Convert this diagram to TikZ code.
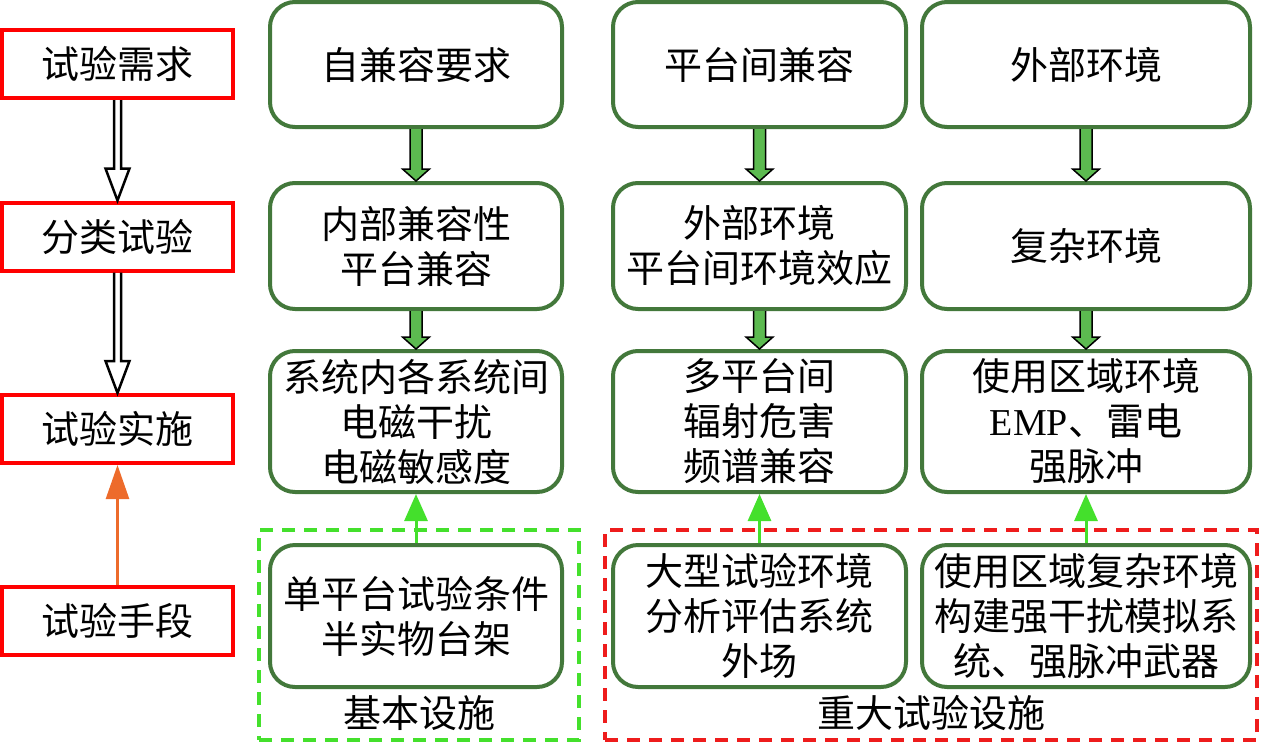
\documentclass[tikz,border=0pt]{standalone}
\usepackage{fontspec}
\setmainfont{Liberation Serif}
\newfontfamily\cjk{Noto Sans CJK SC}
\usetikzlibrary{arrows.meta,calc}
\definecolor{boxgreen}{HTML}{43783B}
\definecolor{fillgreen}{HTML}{5CBA50}
\definecolor{brightgreen}{HTML}{44E02C}
\definecolor{dashred}{HTML}{EE1C1C}
\definecolor{orangec}{HTML}{ED6B2B}
\begin{document}
\begin{tikzpicture}[x=1pt,y=-1pt,
  txt/.style={font=\cjk\fontsize{38}{45}\selectfont, align=center},
  redbox/.style={txt, draw=red, line width=4pt, minimum width=231pt, minimum height=68pt, inner sep=0pt},
  gbox/.style={txt, draw=boxgreen, line width=4pt, rounded corners=25pt, inner sep=0pt},
  hollow/.style={draw=black, line width=2.5pt, line join=miter},
  garrow/.style={draw=black, fill=fillgreen, line width=1.5pt, line join=miter},
  uparrow/.style={draw=brightgreen, line width=3pt, -{Triangle[length=27pt,width=23pt]}},
  oarrow/.style={draw=orangec, line width=2.5pt, -{Triangle[length=34pt,width=23pt]}},
  dashbox/.style={line width=4pt, dash pattern=on 13pt off 9pt, inner sep=0pt},
]
\useasboundingbox (0,0) rectangle (1261,745);
% dashed facility frames
\node[dashbox, draw=brightgreen, minimum width=320pt, minimum height=210pt] (basic) at (419,635) {};
\node[dashbox, draw=dashred, minimum width=652pt, minimum height=210pt] (major) at (931,635) {};
\node[txt] (basiclab) at (419,713) {基本设施};
\node[txt] (majorlab) at (931,713) {重大试验设施};

% left column
\node[redbox] (a1) at (117.5,64) {试验需求};
\node[redbox] (a2) at (117.5,236.5) {分类试验};
\node[redbox] (a3) at (117.5,429) {试验实施};
\node[redbox] (a4) at (117.5,620.5) {试验手段};

% green boxes
\node[gbox, minimum width=292pt, minimum height=125pt] (r1c1) at (416,64.5) {自兼容要求};
\node[gbox, minimum width=293pt, minimum height=125pt] (r1c2) at (759.5,64.5) {平台间兼容};
\node[gbox, minimum width=328pt, minimum height=125pt] (r1c3) at (1086,64.5) {外部环境};

\node[gbox, minimum width=292pt, minimum height=126pt] (r2c1) at (416,246) {内部兼容性\\平台兼容};
\node[gbox, minimum width=293pt, minimum height=126pt] (r2c2) at (759.5,246) {外部环境\\平台间环境效应};
\node[gbox, minimum width=328pt, minimum height=126pt] (r2c3) at (1086,246) {复杂环境};

\node[gbox, minimum width=292pt, minimum height=141pt] (r3c1) at (416,421.5) {系统内各系统间\\电磁干扰\\电磁敏感度};
\node[gbox, minimum width=293pt, minimum height=141pt] (r3c2) at (759.5,421.5) {多平台间\\辐射危害\\频谱兼容};
\node[gbox, minimum width=328pt, minimum height=141pt] (r3c3) at (1086,421.5) {使用区域环境\\{\rmfamily EMP}、雷电\\强脉冲};

\node[gbox, minimum width=292pt, minimum height=142pt] (r4c1) at (416,616) {单平台试验条件\\半实物台架};
\node[gbox, minimum width=293pt, minimum height=142pt] (r4c2) at (759.5,616) {大型试验环境\\分析评估系统\\外场};
\node[gbox, minimum width=328pt, minimum height=142pt] (r4c3) at (1086,616) {使用区域复杂环境\\构建强干扰模拟系\\统、强脉冲武器};

% hollow double arrows (left)
\foreach \s/\t in {a1/a2,a2/a3}{
  \draw[hollow] ([xshift=-3.5pt]\s.south) -- ([xshift=-3.5pt,yshift=32pt]\t.north) -- ([xshift=-12pt,yshift=32pt]\t.north) -- (\t.north) -- ([xshift=12pt,yshift=32pt]\t.north) -- ([xshift=3.5pt,yshift=32pt]\t.north) -- ([xshift=3.5pt]\s.south);
}
% orange arrow
\draw[oarrow] (a4.north) -- (a3.south);

% thick green arrows
\foreach \s/\t in {r1c1/r2c1,r1c2/r2c2,r1c3/r2c3,r2c1/r3c1,r2c2/r3c2,r2c3/r3c3}{
  \filldraw[garrow] ([xshift=-6pt]\s.south) -- ([xshift=-6pt,yshift=12pt]\t.north) -- ([xshift=-13.5pt,yshift=12pt]\t.north) -- (\t.north) -- ([xshift=13.5pt,yshift=12pt]\t.north) -- ([xshift=6pt,yshift=12pt]\t.north) -- ([xshift=6pt]\s.south);
}
% bright green up arrows
\foreach \s/\t in {r4c1/r3c1,r4c2/r3c2,r4c3/r3c3}{
  \draw[uparrow] (\s.north) -- (\t.south);
}
\end{tikzpicture}
\end{document}
